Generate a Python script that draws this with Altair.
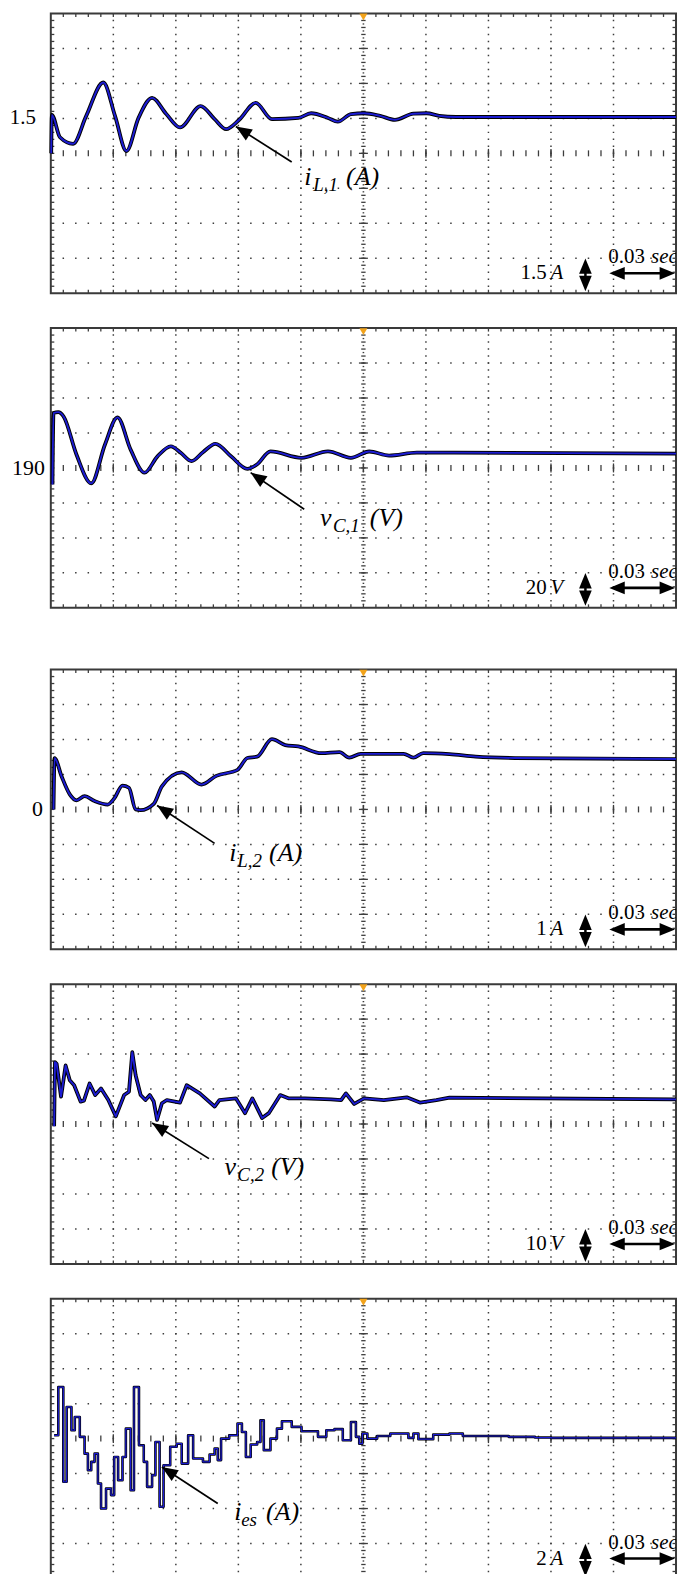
import math
import pandas as pd
import altair as alt

W, H = 628, 281
T_SPAN = 0.3
SERIF = "Liberation Serif"
TRACE_BLUE = "#1c1cd2"
GRID = "#3d3d3d"
ARROW = "M0,0L-0.82,2L0.82,2Z"

# ---- Panel 1: i_L,1 (A), 1.5 A/div
iL1_t = [0.0002, 0.0005, 0.0044, 0.0107, 0.0170, 0.0252, 0.0308, 0.0363, 0.0421, 0.0486,
         0.0554, 0.0620, 0.0719, 0.0785, 0.0841, 0.0904, 0.0983, 0.1061, 0.1188, 0.1249,
         0.1330, 0.1377, 0.1440, 0.1503, 0.1580, 0.1651, 0.1740, 0.1803, 0.1864, 0.1945, 0.3000]
iL1_v = [0.00, 1.65, 0.69, 0.41, 1.61, 3.04, 1.61, 0.10, 1.52, 2.38,
         1.69, 1.11, 2.03, 1.48, 1.04, 1.44, 2.17, 1.47, 1.52, 1.72,
         1.52, 1.36, 1.68, 1.72, 1.61, 1.44, 1.70, 1.72, 1.61, 1.56, 1.56]

# ---- Panel 2: v_C,1 (V), 20 V/div, centre 190
vC1_t = [0.0008, 0.0013, 0.0036, 0.0062, 0.0123, 0.0194, 0.0260, 0.0320, 0.0383, 0.0450,
         0.0511, 0.0576, 0.0625, 0.0675, 0.0730, 0.0790, 0.0866, 0.0943, 0.0989, 0.1054,
         0.1203, 0.1330, 0.1440, 0.1528, 0.1623, 0.1756, 0.3000]
vC1_v = [180.6, 221.4, 221.9, 219.3, 197.7, 181.2, 203.4, 218.9, 200.5, 187.3,
         196.5, 202.4, 198.5, 193.9, 199.0, 203.8, 196.5, 189.5, 192.0, 199.5,
         195.8, 199.5, 195.8, 199.4, 197.1, 198.8, 198.2]

# ---- Panel 3: i_L,2 (A), 1 A/div, centre 0
iL2_t = [0.0013, 0.0018, 0.0052, 0.0091, 0.0123, 0.0162, 0.0210, 0.0273, 0.0304, 0.0344,
         0.0375, 0.0407, 0.0431, 0.0494, 0.0533, 0.0628, 0.0723, 0.0794, 0.0896, 0.0943,
         0.0990, 0.1061, 0.1125, 0.1188, 0.1298, 0.1385, 0.1432, 0.1487, 0.1693, 0.1740,
         0.1787, 0.1913, 0.2039, 0.2228, 0.3000]
iL2_v = [0.00, 1.47, 0.94, 0.43, 0.26, 0.38, 0.24, 0.14, 0.31, 0.68,
         0.62, 0.00, -0.02, 0.16, 0.66, 1.06, 0.71, 0.96, 1.13, 1.47,
         1.51, 2.01, 1.84, 1.80, 1.61, 1.64, 1.48, 1.59, 1.59, 1.48,
         1.61, 1.58, 1.51, 1.47, 1.44]

# ---- Panel 4: v_C,2 (V), 10 V/div (values relative to screen centre)
vC2_t = [0.0016, 0.0020, 0.0028, 0.0049, 0.0071, 0.0091, 0.0112, 0.0143, 0.0159, 0.0186,
         0.0213, 0.0241, 0.0276, 0.0312, 0.0352, 0.0375, 0.0391, 0.0407, 0.0431, 0.0454,
         0.0475, 0.0494, 0.0510, 0.0533, 0.0557, 0.0620, 0.0652, 0.0715, 0.0786, 0.0809,
         0.0888, 0.0932, 0.0967, 0.1014, 0.1046, 0.1101, 0.1140, 0.1219, 0.1345, 0.1393,
         0.1416, 0.1456, 0.1503, 0.1598, 0.1708, 0.1771, 0.1850, 0.1913, 0.3000]
vC2_v = [-0.65, 17.71, 17.23, 7.82, 16.75, 12.51, 11.10, 6.41, 6.69, 11.58,
         8.28, 10.17, 6.86, 2.18, 8.28, 9.24, 20.54, 13.93, 8.28, 6.86,
         8.28, 6.41, 1.21, 5.93, 6.86, 6.13, 11.10, 8.76, 5.00, 6.86,
         7.34, 3.11, 7.34, 1.69, 3.11, 8.28, 7.34, 7.34, 7.06, 6.86,
         8.76, 5.73, 7.34, 6.86, 7.63, 6.13, 6.86, 7.54, 7.06]

# ---- Panel 5: i_es (A), 2 A/div (values relative to screen centre)
ies_t = [0.0016, 0.0036, 0.0060, 0.0076, 0.0099, 0.0115, 0.0139, 0.0162, 0.0178, 0.0194,
         0.0210, 0.0226, 0.0241, 0.0265, 0.0289, 0.0304, 0.0323, 0.0344, 0.0360, 0.0383,
         0.0399, 0.0423, 0.0446, 0.0462, 0.0486, 0.0502, 0.0522, 0.0541, 0.0573, 0.0604,
         0.0628, 0.0659, 0.0683, 0.0730, 0.0762, 0.0786, 0.0801, 0.0817, 0.0856, 0.0896,
         0.0917, 0.0936, 0.0959, 0.0990, 0.1006, 0.1022, 0.1054, 0.1085, 0.1109, 0.1156,
         0.1203, 0.1251, 0.1282, 0.1322, 0.1361, 0.1401, 0.1440, 0.1464, 0.1480, 0.1495,
         0.1519, 0.1566, 0.1629, 0.1716, 0.1740, 0.1764, 0.1835, 0.1913, 0.1977, 0.2197,
         0.2323, 0.2402, 0.3000]
ies_v = [0.19, 2.95, -2.47, 1.81, 0.48, 1.24, 0.10, -0.86, -1.81, -1.33,
         -0.86, -2.57, -4.00, -2.86, -3.23, -1.05, -2.38, -1.05, 0.57, -2.95,
         2.95, -0.38, -1.33, -2.76, -2.09, -0.19, -3.90, -1.52, -0.47, -0.29,
         -1.43, 0.19, -1.14, -1.33, -0.91, -0.57, -1.23, 0.00, 0.19, 0.86,
         0.38, -1.05, -0.34, -0.19, 1.05, -0.66, 0.00, 0.57, 0.99, 0.67,
         0.42, 0.42, 0.10, 0.48, 0.54, -0.09, 0.95, 0.10, -0.29, 0.29,
         0.00, 0.15, 0.29, 0.04, 0.29, -0.03, 0.23, 0.29, 0.15, 0.10,
         0.06, 0.04, 0.04]

# annotations: arrow tip, arrow tail, label anchor (data units)
ann1 = dict(tip=(0.0888, 1.15), tail=(0.1156, -0.37), text=(0.1216, -1.35),
            main="i", sub="L,1", unit="(A)", sub_dx=9, unit_dx=42)
ann2 = dict(tip=(0.0959, 187.3), tail=(0.1216, 166.4), text=(0.1292, 156.8),
            main="v", sub="C,1", unit="(V)", sub_dx=13, unit_dx=50)
ann3 = dict(tip=(0.0510, 0.11), tail=(0.0786, -0.97), text=(0.0856, -1.48),
            main="i", sub="L,2", unit="(A)", sub_dx=8, unit_dx=40)
ann4 = dict(tip=(0.0486, 0.28), tail=(0.0759, -9.89), text=(0.0833, -14.69),
            main="v", sub="C,2", unit="(V)", sub_dx=13, unit_dx=47)
ann5 = dict(tip=(0.0533, -1.62), tail=(0.0801, -3.71), text=(0.0880, -4.65),
            main="i", sub="es", unit="(A)", sub_dx=7, unit_dx=32)


def one(**kw):
    return pd.DataFrame([kw])


def build_panel(t, v, center, per_div, interp, ann, scale_num, scale_unit,
                label=None, label_x=-8, label_size=22, pad_below=0, step=False):
    y0, y1 = center - 4 * per_div, center + 4 * per_div
    xs = alt.Scale(domain=[0, T_SPAN], nice=False, zero=False)
    ys = alt.Scale(domain=[y0, y1], nice=False, zero=False)

    def X(f):
        return alt.X(f, type="quantitative", scale=xs, axis=None)

    def Y(f):
        return alt.Y(f, type="quantitative", scale=ys, axis=None)

    L = []
    # dotted grid
    vg = pd.DataFrame({"t": [k * 0.03 for k in (1, 2, 3, 4, 6, 7, 8, 9)]})
    L.append(alt.Chart(vg).mark_rule(color=GRID, strokeWidth=1.5,
                                     strokeDash=[1.5, H / 40 - 1.5], strokeDashOffset=0.75)
             .encode(x=X("t"), y=alt.value(0), y2=alt.value(H)))
    hg = pd.DataFrame({"v": [center + k * per_div for k in (-3, -2, -1, 1, 2, 3)]})
    L.append(alt.Chart(hg).mark_rule(color=GRID, strokeWidth=1.5,
                                     strokeDash=[1.5, W / 50 - 1.5], strokeDashOffset=0.75)
             .encode(y=Y("v"), x=alt.value(0), x2=alt.value(W)))
    # minor ticks along x (top, bottom, centre line)
    xt = pd.DataFrame({"t": [k * 0.006 for k in range(1, 50)]})
    for a, b in [(0, 3.5), (H - 3.5, H), (H / 2 - 3, H / 2 + 3)]:
        L.append(alt.Chart(xt).mark_rule(color=GRID, strokeWidth=1.3)
                 .encode(x=X("t"), y=alt.value(a), y2=alt.value(b)))
    xm = pd.DataFrame({"t": [k * 0.03 for k in range(1, 10)]})
    L.append(alt.Chart(xm).mark_rule(color=GRID, strokeWidth=1.3)
             .encode(x=X("t"), y=alt.value(H / 2 - 4.5), y2=alt.value(H / 2 + 4.5)))
    # minor ticks along y (left, right borders)
    yt = pd.DataFrame({"v": [center + k * per_div / 5 for k in range(-19, 20)]})
    for a, b in [(0, 3.5), (W - 3.5, W)]:
        L.append(alt.Chart(yt).mark_rule(color=GRID, strokeWidth=1.3)
                 .encode(y=Y("v"), x=alt.value(a), x2=alt.value(b)))
    # centre vertical line dashes
    L.append(alt.Chart(yt).mark_rule(color=GRID, strokeWidth=1.3)
             .encode(y=Y("v"), x=alt.value(W / 2 - 2.2), x2=alt.value(W / 2 + 2.2)))
    yd = pd.DataFrame({"v": [center + k * per_div / 10 for k in range(-39, 40, 2)]})
    L.append(alt.Chart(yd).mark_rule(color=GRID, strokeWidth=1.3)
             .encode(y=Y("v"), x=alt.value(W / 2 - 0.8), x2=alt.value(W / 2 + 0.8)))
    ym = pd.DataFrame({"v": [center + k * per_div for k in range(-3, 4)]})
    L.append(alt.Chart(ym).mark_rule(color=GRID, strokeWidth=1.3)
             .encode(y=Y("v"), x=alt.value(W / 2 - 4.5), x2=alt.value(W / 2 + 4.5)))

    # waveform
    wave = pd.DataFrame({"t": t, "v": v})
    wo, wi = (2.6, 1.2) if step else (3.8, 1.9)
    L.append(alt.Chart(wave).mark_line(color="black", strokeWidth=wo, interpolate=interp,
                                       strokeJoin="round")
             .encode(x=X("t"), y=Y("v"), order="t:Q"))
    L.append(alt.Chart(wave).mark_line(color=TRACE_BLUE, strokeWidth=wi, interpolate=interp,
                                       strokeJoin="round")
             .encode(x=X("t"), y=Y("v"), order="t:Q"))

    # left reference label
    if label is not None:
        L.append(alt.Chart(one(v=label[0], lab=label[1]))
                 .mark_text(align="right", baseline="middle", font=SERIF, fontSize=label_size,
                            color="black")
                 .encode(x=alt.value(label_x), y=Y("v"), text="lab:N"))

    # annotation arrow + label
    seg = one(t1=ann["tail"][0], v1=ann["tail"][1], t2=ann["tip"][0], v2=ann["tip"][1])
    L.append(alt.Chart(seg).mark_rule(color="black", strokeWidth=1.7)
             .encode(x=X("t1"), y=Y("v1"), x2=alt.X2("t2"), y2=alt.Y2("v2")))
    dx = (ann["tip"][0] - ann["tail"][0]) * W / T_SPAN
    dy = -(ann["tip"][1] - ann["tail"][1]) * H / (8 * per_div)
    ang = math.degrees(math.atan2(dx, -dy)) % 360
    L.append(alt.Chart(one(t=ann["tip"][0], v=ann["tip"][1]))
             .mark_point(shape=ARROW, filled=True, color="black", opacity=1, size=256,
                         angle=ang, strokeWidth=0)
             .encode(x=X("t"), y=Y("v")))
    txt = one(t=ann["text"][0], v=ann["text"][1])
    L.append(alt.Chart(txt).mark_text(align="left", baseline="alphabetic", font=SERIF, fontSize=26,
                                      fontStyle="italic", color="black")
             .encode(x=X("t"), y=Y("v"), text=alt.value(ann["main"])))
    L.append(alt.Chart(txt).mark_text(align="left", baseline="alphabetic", font=SERIF, fontSize=19,
                                      fontStyle="italic", color="black", dx=ann["sub_dx"], dy=6)
             .encode(x=X("t"), y=Y("v"), text=alt.value(ann["sub"])))
    L.append(alt.Chart(txt).mark_text(align="left", baseline="alphabetic", font=SERIF, fontSize=26,
                                      fontStyle="italic", color="black", dx=ann["unit_dx"])
             .encode(x=X("t"), y=Y("v"), text=alt.value(ann["unit"])))

    # scale indicators (bottom right)
    d0 = one(k=0)
    vx = W - 91
    for yy, aa in [(246, 0), (279, 180)]:
        L.append(alt.Chart(d0).mark_point(shape=ARROW, filled=True, color="black", opacity=1,
                                          size=240, angle=aa, strokeWidth=0)
                 .encode(x=alt.value(vx), y=alt.value(yy)))
    L.append(alt.Chart(d0).mark_rule(color="black", strokeWidth=2.5)
             .encode(x=alt.value(vx), y=alt.value(258), y2=alt.value(267)))
    for xx, aa in [(W - 67, 270), (W - 1, 90)]:
        L.append(alt.Chart(d0).mark_point(shape=ARROW, filled=True, color="black", opacity=1,
                                          size=240, angle=aa, strokeWidth=0)
                 .encode(x=alt.value(xx), y=alt.value(261)))
    L.append(alt.Chart(d0).mark_rule(color="black", strokeWidth=2.6)
             .encode(x=alt.value(W - 60), x2=alt.value(W - 8), y=alt.value(261)))
    L.append(alt.Chart(d0).mark_text(align="right", baseline="middle", font=SERIF, fontSize=21,
                                     color="black")
             .encode(x=alt.value(W - 130), y=alt.value(261), text=alt.value(scale_num)))
    L.append(alt.Chart(d0).mark_text(align="left", baseline="middle", font=SERIF, fontSize=21,
                                     fontStyle="italic", color="black")
             .encode(x=alt.value(W - 126), y=alt.value(261), text=alt.value(scale_unit)))
    L.append(alt.Chart(d0).mark_text(align="left", baseline="middle", font=SERIF, fontSize=21,
                                     color="black")
             .encode(x=alt.value(W - 68), y=alt.value(245), text=alt.value("0.03")))
    L.append(alt.Chart(d0).mark_text(align="left", baseline="middle", font=SERIF, fontSize=21,
                                     fontStyle="italic", color="black", clip=True)
             .encode(x=alt.value(W - 25), y=alt.value(245), text=alt.value("sec")))

    # trigger marker
    L.append(alt.Chart(one(t=T_SPAN / 2)).mark_point(shape="triangle-down", filled=True,
                                                      color="#f2a31b", opacity=1, size=64,
                                                      strokeWidth=0)
             .encode(x=X("t"), y=alt.value(3.6)))

    # layout helpers (fixed left extent, extra space below)
    L.append(alt.Chart(d0).mark_rule(color="white", strokeWidth=1)
             .encode(x=alt.value(-41), x2=alt.value(-40), y=alt.value(H - 2)))
    if pad_below:
        L.append(alt.Chart(d0).mark_rule(color="white", strokeWidth=1)
                 .encode(x=alt.value(0), x2=alt.value(1), y=alt.value(H + pad_below)))

    return alt.layer(*L).properties(width=W, height=H)


p1 = build_panel(iL1_t, iL1_v, 0, 1.5, "monotone", ann1, "1.5", "A",
                 label=(1.5, "1.5"), label_x=-15, label_size=21)
p2 = build_panel(vC1_t, vC1_v, 190, 20, "monotone", ann2, "20", "V",
                 label=(190, "190"), label_x=-6, pad_below=27)
p3 = build_panel(iL2_t, iL2_v, 0, 1, "monotone", ann3, "1", "A",
                 label=(0, "0"), label_x=-8)
p4 = build_panel(vC2_t, vC2_v, 0, 10, "linear", ann4, "10", "V")
p5 = build_panel(ies_t, ies_v, 0, 2, "step-after", ann5, "2", "A", step=True)

chart = (
    alt.vconcat(p1, p2, p3, p4, p5, spacing=31)
    .properties(padding={"left": 0, "top": 0, "right": 0, "bottom": -8}, background="white")
    .configure_view(stroke="#3a3a3a", strokeWidth=2)
)

chart.save("out.html", embed_options={"renderer": "svg", "actions": False})
